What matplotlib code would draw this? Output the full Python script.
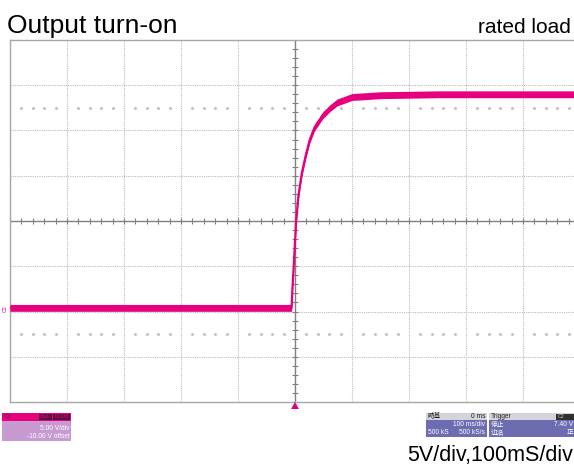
import matplotlib
matplotlib.use("Agg")
import matplotlib.pyplot as plt
from matplotlib.patches import Rectangle, Polygon
import numpy as np

plt.rcParams['font.family'] = ['Liberation Sans', 'Noto Sans CJK SC', 'DejaVu Sans']

# Captured trace: time (ms, relative to trigger) and output voltage (V)
time_ms = [-500, -300, -100, -6, -4.5, -1, 2, 6, 12, 19, 26, 34, 49, 62, 74, 100, 150, 250, 500]
volts = [0.4, 0.4, 0.4, 0.4, 2.5, 6.5, 10.0, 12.8, 15.3, 17.3, 19.0, 20.3, 21.7, 22.5, 23.1, 23.7, 23.9, 24.0, 24.0]

title_text = "Output turn-on"
load_text = "rated load"
scale_text = "5V/div,100mS/div"

W, H = 574, 468
fig = plt.figure(figsize=(W / 100, H / 100), dpi=100)

# screen area in pixels: x 10..580, y 40..402
x0, x1, y0, y1 = 10, 580, 40, 402
ax = fig.add_axes([x0 / W, (H - y1) / H, (x1 - x0) / W, (y1 - y0) / H])
ax.set_xlim(-500, 500)
ax.set_ylim(-10, 30)
ax.set_xticks([])
ax.set_yticks([])
for s in ax.spines.values():
    s.set_color('#a8a8a8')
    s.set_linewidth(1.0)

grid_col = '#bcbcbc'
for gx in range(-400, 500, 100):
    if gx == 0:
        continue
    ax.axvline(gx, color=grid_col, lw=0.8, ls=(0, (1, 1)), zorder=1)
for gy in range(-5, 30, 5):
    if gy == 10:
        continue
    ax.axhline(gy, color=grid_col, lw=0.8, ls=(0, (1, 1)), zorder=1)

# center cross with fine ticks
ax.axvline(0, color='#808080', lw=1.0, zorder=2)
ax.axhline(10, color='#808080', lw=1.0, zorder=2)
minor_x = np.arange(-500, 501, 20)
minor_y = np.arange(-10, 30.1, 1)
ax.plot(minor_x, np.full_like(minor_x, 10.0, dtype=float), ls='none', marker='|',
        ms=5, mew=0.8, color='#808080', zorder=2)
ax.plot(np.zeros_like(minor_y), minor_y, ls='none', marker='_',
        ms=5, mew=0.8, color='#808080', zorder=2)

# dotted level rows
dots_x = np.array([v for v in minor_x if v % 100 != 0])
for lvl in (22.5, -2.5):
    ax.plot(dots_x, np.full(len(dots_x), lvl), ls='none', marker='o', ms=1.2,
            color='#c4c4c4', zorder=1)

# trace
trace_col = '#e6007e'
t = np.array(time_ms, dtype=float)
v = np.array(volts, dtype=float)
ax.fill_between(t, v - 0.38, v + 0.38, color=trace_col, lw=0, zorder=4)
ax.plot(t, v, color=trace_col, lw=1.6, zorder=5, solid_joinstyle='round')

# titles
fig.text(7 / W, 1 - 33 / H, title_text, fontsize=19, ha='left', va='baseline', color='black')
fig.text(571 / W, 1 - 33 / H, load_text, fontsize=15, ha='right', va='baseline', color='black')
fig.text(573 / W, 1 - 461 / H, scale_text, fontsize=15.5, ha='right', va='baseline', color='black')

def px_rect(x, y, w, h, color, **kw):
    fig.patches.append(Rectangle((x / W, 1 - (y + h) / H), w / W, h / H,
                                 transform=fig.transFigure, facecolor=color,
                                 edgecolor='none', **kw))

def px_text(x, y, s, ha='left', color='white', size=4.8, **kw):
    fig.text(x / W, 1 - y / H, s, fontsize=size, ha=ha, va='center', color=color, **kw)

# trigger marker at bottom and channel marker at left
fig.patches.append(Polygon([[(295 - 4) / W, 1 - 409 / H], [(295 + 4) / W, 1 - 409 / H],
                            [295 / W, 1 - 402 / H]], closed=True,
                           transform=fig.transFigure, facecolor=trace_col, edgecolor='none'))
px_rect(1, 305, 8, 8, 'white')
px_text(5, 309, 'C2', ha='center', color=trace_col, size=3.8, rotation=90)

# channel info box
px_rect(2, 413, 69, 8, trace_col)
px_rect(2, 421, 69, 20, '#c89ad2')
px_rect(39, 414, 13, 6, '#5a1040')
px_rect(53, 414, 17, 6, '#5a1040')
px_text(4, 417, 'C2', color='#5a1040', size=3.8)
px_text(45.5, 417, 'BwL', ha='center', color=trace_col, size=3.6)
px_text(61.5, 417, 'DC1M', ha='center', color=trace_col, size=3.6)
px_text(70, 428, '5.00 V/div', ha='right')
px_text(70, 436, '-10.00 V offset', ha='right')

# timebase box
px_rect(426, 413, 61, 7, '#d4d4dc')
px_rect(426, 420, 61, 17, '#6c6cb0')
px_text(428, 416.5, '時基', color='#202020')
px_text(485, 416.5, '0 ms', ha='right', color='#202020')
px_text(485, 425, '100 ms/div', ha='right')
px_text(428, 433, '500 kS')
px_text(485, 433, '500 kS/s', ha='right')

# trigger box
px_rect(489, 413, 90, 7, '#d4d4dc')
px_rect(489, 420, 90, 17, '#6c6cb0')
px_rect(556, 414, 20, 5.5, '#303030')
px_text(491, 416.5, 'Trigger', color='#202020')
px_text(558, 416.5, 'C2', color='#d0d0d0', size=3.8)
px_text(491, 425, '停止')
px_text(573, 425, '7.40 V', ha='right')
px_text(491, 433, '边沿')
px_text(573, 433, '正', ha='right')

fig.savefig('out.png', dpi=100)
